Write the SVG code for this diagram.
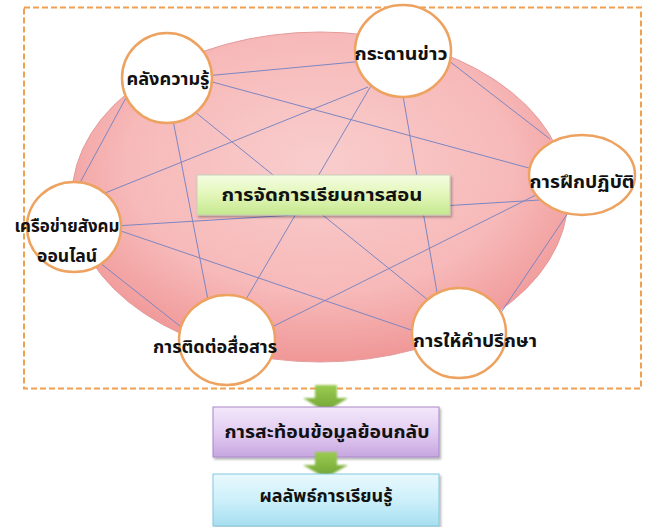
<svg xmlns="http://www.w3.org/2000/svg" width="645" height="527" viewBox="0 0 645 527">
<defs>
<radialGradient id="gEll" cx="0.5" cy="0.4" r="0.6">
<stop offset="0" stop-color="#f9cdcd"/>
<stop offset="0.65" stop-color="#f7b9b9"/>
<stop offset="1" stop-color="#f09797"/>
</radialGradient>
<radialGradient id="gCirc" cx="0.5" cy="0.45" r="0.6">
<stop offset="0" stop-color="#ffffff"/>
<stop offset="0.85" stop-color="#ffffff"/>
<stop offset="1" stop-color="#fbf6f0"/>
</radialGradient>
<linearGradient id="gCenter" x1="0" y1="0" x2="0" y2="1">
<stop offset="0" stop-color="#f4fde2"/>
<stop offset="0.5" stop-color="#e2f6b8"/>
<stop offset="1" stop-color="#c4e88e"/>
</linearGradient>
<linearGradient id="gPurple" x1="0" y1="0" x2="0" y2="1">
<stop offset="0" stop-color="#f3e8fa"/>
<stop offset="0.5" stop-color="#e2cdf2"/>
<stop offset="1" stop-color="#c7a6e0"/>
</linearGradient>
<linearGradient id="gCyan" x1="0" y1="0" x2="0" y2="1">
<stop offset="0" stop-color="#e8f9fd"/>
<stop offset="0.5" stop-color="#cdf0fa"/>
<stop offset="1" stop-color="#a6def0"/>
</linearGradient>
<linearGradient id="gArrow" x1="0" y1="0" x2="0" y2="1">
<stop offset="0" stop-color="#9ccb50"/>
<stop offset="1" stop-color="#6ea334"/>
</linearGradient>
<filter id="shadow" x="-10%" y="-20%" width="120%" height="150%">
<feDropShadow dx="1.5" dy="2" stdDeviation="1.2" flood-color="#000" flood-opacity="0.3"/>
</filter>
<filter id="soft" x="-20%" y="-20%" width="140%" height="140%">
<feGaussianBlur stdDeviation="0.8"/>
</filter>
</defs>
<style>
.lbl{font-family:"Noto Sans Thai","Noto Sans","DejaVu Sans",sans-serif;font-weight:bold;font-size:17px;fill:#111;}
.circ{fill:url(#gCirc);stroke:#eda260;stroke-width:2.5;}
.conn line{stroke:#7c86c2;stroke-width:1;}
.arrow{fill:url(#gArrow);}
</style>

<rect id="frame" x="24" y="7.5" width="617" height="381" fill="none" stroke="#f0a050" stroke-width="2" stroke-dasharray="6,3"/>

<ellipse id="bigEllipse" cx="320" cy="197" rx="248" ry="165" fill="url(#gEll)" stroke="#e59c9c" stroke-width="1"/>

<g id="connectors" class="conn">
<line x1="205" y1="76" x2="365" y2="61"/>
<line x1="205" y1="80" x2="540" y2="171"/>
<line x1="172" y1="115" x2="209" y2="305"/>
<line x1="195" y1="112" x2="428" y2="300"/>
<line x1="128" y1="94" x2="76" y2="190"/>
<line x1="368" y1="87" x2="105" y2="193"/>
<line x1="372" y1="84" x2="242" y2="306"/>
<line x1="402" y1="90" x2="438" y2="298"/>
<line x1="440" y1="54" x2="550" y2="139"/>
<line x1="115" y1="226" x2="540" y2="200"/>
<line x1="115" y1="229" x2="420" y2="333"/>
<line x1="95" y1="259" x2="190" y2="334"/>
<line x1="262" y1="332" x2="540" y2="193"/>
<line x1="572" y1="207" x2="498" y2="317"/>
</g>

<g id="center">
<rect x="197" y="175" width="253" height="40" fill="url(#gCenter)" stroke="#c8d0b8" stroke-width="1" filter="url(#shadow)"/>
<text class="lbl" x="322" y="201" text-anchor="middle" textLength="201" lengthAdjust="spacingAndGlyphs">การจัดการเรียนการสอน</text>
</g>

<g id="node-knowledge">
<ellipse class="circ" cx="167" cy="78" rx="45" ry="45"/>
<text class="lbl" x="168" y="85" text-anchor="middle" textLength="83" lengthAdjust="spacingAndGlyphs">คลังความรู้</text>
</g>
<g id="node-board">
<ellipse class="circ" cx="403" cy="51" rx="48" ry="46"/>
<text class="lbl" x="401" y="60" text-anchor="middle" textLength="93" lengthAdjust="spacingAndGlyphs">กระดานข่าว</text>
</g>
<g id="node-practice">
<ellipse class="circ" cx="582" cy="175" rx="53" ry="40"/>
<text class="lbl" x="582" y="188" text-anchor="middle" textLength="105" lengthAdjust="spacingAndGlyphs">การฝึกปฏิบัติ</text>
</g>
<g id="node-social">
<ellipse class="circ" cx="74" cy="227" rx="47" ry="45"/>
<text class="lbl" x="67" y="232" text-anchor="middle" textLength="105" lengthAdjust="spacingAndGlyphs">เครือข่ายสังคม</text>
<text class="lbl" x="67" y="262" text-anchor="middle" textLength="60" lengthAdjust="spacingAndGlyphs">ออนไลน์</text>
</g>
<g id="node-communication">
<ellipse class="circ" cx="227" cy="340" rx="48" ry="45"/>
<text class="lbl" x="215" y="353" text-anchor="middle" textLength="124" lengthAdjust="spacingAndGlyphs">การติดต่อสื่อสาร</text>
</g>
<g id="node-advice">
<ellipse class="circ" cx="459" cy="333" rx="47" ry="45"/>
<text class="lbl" x="475" y="347" text-anchor="middle" textLength="124" lengthAdjust="spacingAndGlyphs">การให้คำปรึกษา</text>
</g>

<g id="arrow1">
<path class="arrow" filter="url(#soft)" d="M315,385 H337 V398 H348 L325.5,412 L303,398 H315 Z"/>
</g>

<g id="node-feedback">
<rect x="213" y="407" width="226" height="50" fill="url(#gPurple)" stroke="#a888c8" stroke-width="1" filter="url(#shadow)"/>
<text class="lbl" x="327" y="438" text-anchor="middle" textLength="205" lengthAdjust="spacingAndGlyphs">การสะท้อนข้อมูลย้อนกลับ</text>
</g>

<g id="arrow2">
<path class="arrow" filter="url(#soft)" d="M315,452 H337 V465 H348 L325.5,478 L303,465 H315 Z"/>
</g>

<g id="node-outcome">
<rect x="213" y="474" width="226" height="52" fill="url(#gCyan)" stroke="#86c8e0" stroke-width="1" filter="url(#shadow)"/>
<text class="lbl" x="326" y="502" text-anchor="middle" textLength="133" lengthAdjust="spacingAndGlyphs">ผลลัพธ์การเรียนรู้</text>
</g>
</svg>
